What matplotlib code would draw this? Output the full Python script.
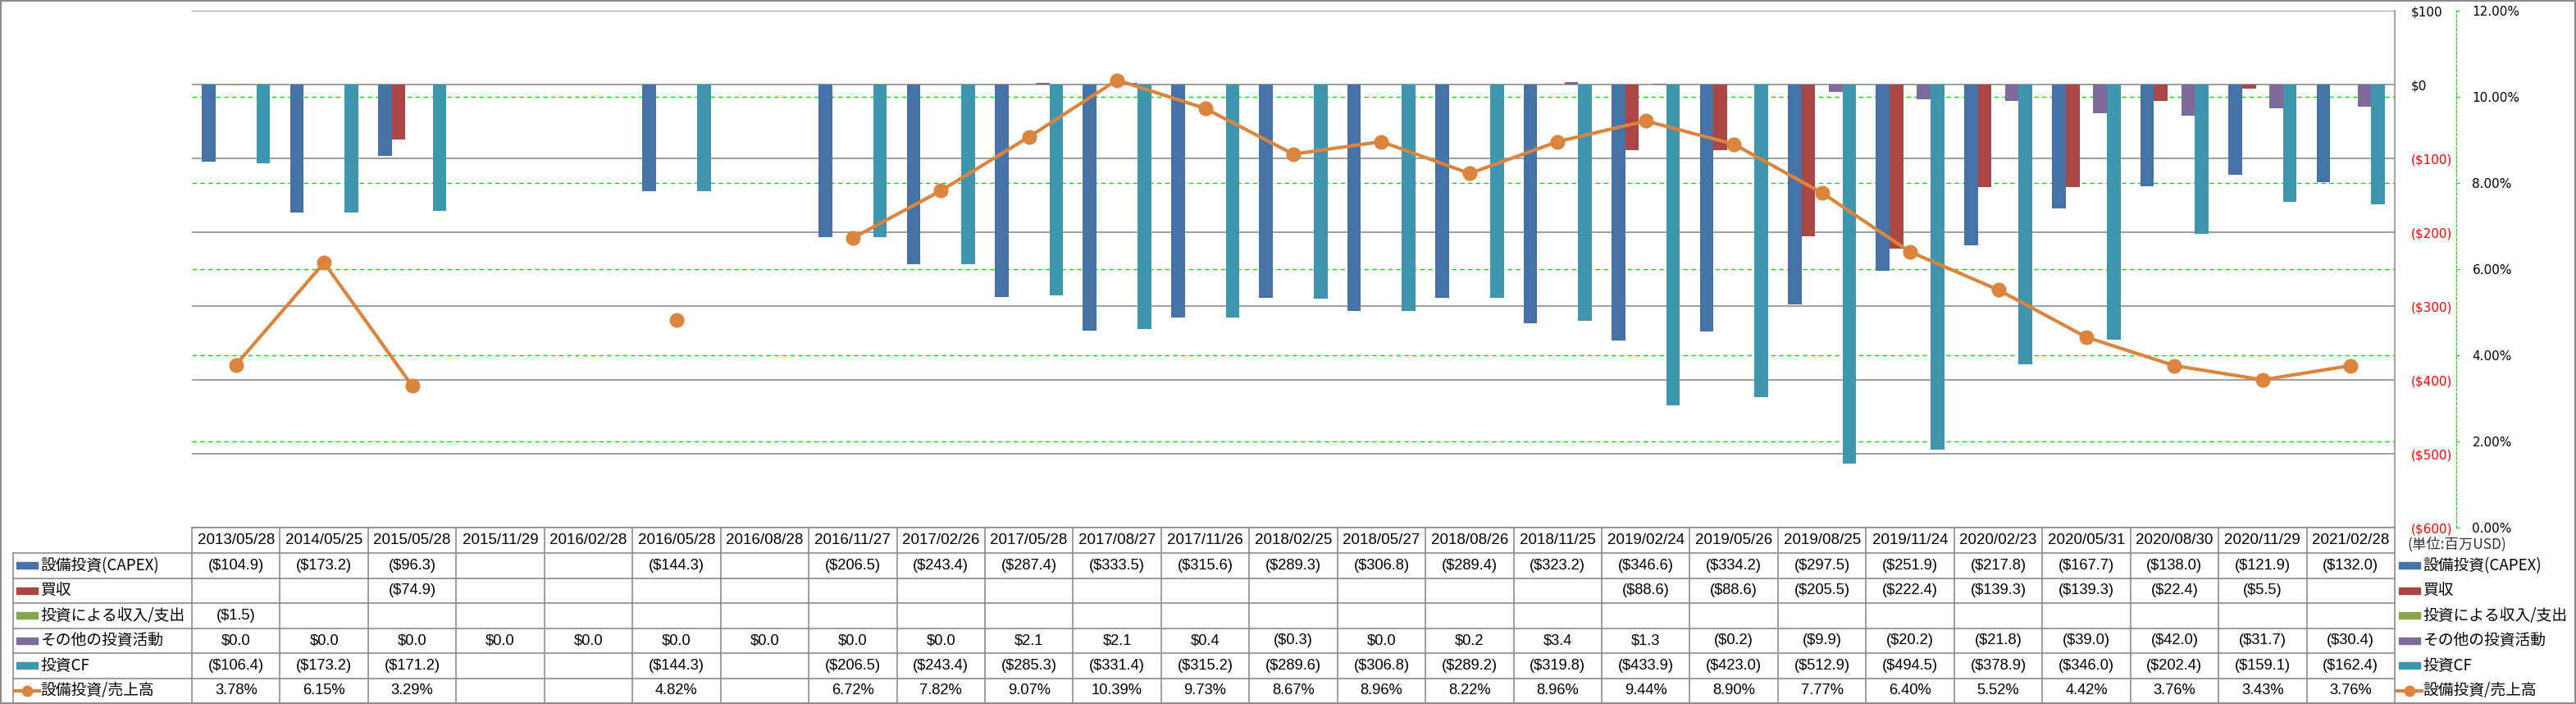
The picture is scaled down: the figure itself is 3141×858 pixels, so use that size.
import numpy as np
import matplotlib.pyplot as plt
import matplotlib.transforms as mtransforms
from matplotlib.patches import Rectangle
from matplotlib.lines import Line2D

plt.rcParams['font.family'] = ['Liberation Sans', 'Noto Sans CJK JP']

dates = ['2013/05/28', '2014/05/25', '2015/05/28', '2015/11/29', '2016/02/28',
         '2016/05/28', '2016/08/28', '2016/11/27', '2017/02/26', '2017/05/28',
         '2017/08/27', '2017/11/26', '2018/02/25', '2018/05/27', '2018/08/26',
         '2018/11/25', '2019/02/24', '2019/05/26', '2019/08/25', '2019/11/24',
         '2020/02/23', '2020/05/31', '2020/08/30', '2020/11/29', '2021/02/28']
nan = np.nan
capex = [-104.9, -173.2, -96.3, nan, nan, -144.3, nan, -206.5, -243.4, -287.4,
         -333.5, -315.6, -289.3, -306.8, -289.4, -323.2, -346.6, -334.2, -297.5, -251.9,
         -217.8, -167.7, -138.0, -121.9, -132.0]
acquisition = [nan, nan, -74.9, nan, nan, nan, nan, nan, nan, nan,
               nan, nan, nan, nan, nan, nan, -88.6, -88.6, -205.5, -222.4,
               -139.3, -139.3, -22.4, -5.5, nan]
inv_income = [-1.5] + [nan] * 24
other_inv = [0.0, 0.0, 0.0, 0.0, 0.0, 0.0, 0.0, 0.0, 0.0, 2.1,
             2.1, 0.4, -0.3, 0.0, 0.2, 3.4, 1.3, -0.2, -9.9, -20.2,
             -21.8, -39.0, -42.0, -31.7, -30.4]
inv_cf = [-106.4, -173.2, -171.2, nan, nan, -144.3, nan, -206.5, -243.4, -285.3,
          -331.4, -315.2, -289.6, -306.8, -289.2, -319.8, -433.9, -423.0, -512.9, -494.5,
          -378.9, -346.0, -202.4, -159.1, -162.4]
capex_ratio = [3.78, 6.15, 3.29, nan, nan, 4.82, nan, 6.72, 7.82, 9.07,
               10.39, 9.73, 8.67, 8.96, 8.22, 8.96, 9.44, 8.90, 7.77, 6.40,
               5.52, 4.42, 3.76, 3.43, 3.76]

bar_series = [capex, acquisition, inv_income, other_inv, inv_cf]
names = ['設備投資(CAPEX)', '買収', '投資による収入/支出', 'その他の投資活動', '投資CF', '設備投資/売上高']
colors = ['#4572A7', '#AA4643', '#89A54E', '#80699B', '#3D96AE']
line_color = '#DB843D'

W, H = 3141, 858
fig = plt.figure(figsize=(W / 100, H / 100), dpi=100)

left, right, top, bot = 234, 2920, 13, 643
ax = fig.add_axes([left / W, 1 - bot / H, (right - left) / W, (bot - top) / H])
n = len(dates)
x = np.arange(n)
bw = 0.155
for k, vals in enumerate(bar_series):
    ax.bar(x + (k - 2) * bw, np.array(vals, float), width=bw, color=colors[k], zorder=3)

ax.set_xlim(-0.5, n - 0.5)
ax.set_ylim(-600, 100)
ax.set_xticks([])
ax.grid(axis='y', color='#868686', lw=1.1)
ax.set_axisbelow(True)
for s in ['left', 'top', 'bottom']:
    ax.spines[s].set_visible(False)
ax.spines['right'].set_color('#868686')
ax.spines['right'].set_linewidth(1.1)

ax2 = ax.twinx()
ax2.set_ylim(0, 12)
pt = np.arange(0, 13, 2)
ax2.set_yticks(pt)
ax2.set_yticklabels([f'{p:.2f}%' for p in pt])
ax2.plot(x, capex_ratio, '-o', color=line_color, lw=3, ms=12, zorder=4)
for s in ['left', 'top', 'bottom']:
    ax2.spines[s].set_visible(False)
ax2.spines['right'].set_position(('outward', 54))
ax2.spines['right'].set_color('#00E000')
ax2.spines['right'].set_linestyle((0, (3, 2)))
ax2.tick_params(axis='y', colors='#00E000', labelcolor='black', length=3, pad=11, labelsize=11)
for lab in ax2.get_yticklabels():
    lab.set_family('DejaVu Sans')

# $ axis labels sit on the right, between plot and % axis (twinx resets this)
yt = np.arange(-600, 101, 100)
ax.yaxis.tick_right()
ax.set_yticks(yt)
ax.set_yticklabels([f'${v}' if v >= 0 else f'(${-v})' for v in yt])
ax.tick_params(axis='y', length=0, pad=14, labelsize=11)
for lab, v in zip(ax.get_yticklabels(), yt):
    lab.set_color('red' if v < 0 else 'black')
    lab.set_family('DejaVu Sans')

# green dashed gridlines for the % axis, behind the bars
trans = mtransforms.blended_transform_factory(ax.transAxes, ax2.transData)
for p in pt[1:-1]:
    ax.plot([0, 1], [p, p], transform=trans, color='#00E000', lw=1.0,
            ls=(0, (4, 3)), zorder=1)

# data table
tab = fig.add_axes([0, 0, 1, 1], facecolor='none')
tab.set_xlim(0, W)
tab.set_ylim(H, 0)
tab.axis('off')
gc = '#8c8c8c'
colw = (right - left) / n
edges = left + np.arange(n + 1) * colw
h_top, h_bot = 643, 674
rh = (857 - h_bot) / 6
rows = h_bot + np.arange(7) * rh

tab.plot([left, right], [h_top, h_top], color=gc, lw=1.2)
for yy in rows:
    tab.plot([16, right], [yy, yy], color=gc, lw=1.2)
for xx in edges:
    tab.plot([xx, xx], [h_top, rows[-1]], color=gc, lw=1.2)
tab.plot([16, 16], [h_bot, rows[-1]], color=gc, lw=1.2)

for i, d in enumerate(dates):
    tab.text(edges[i] + colw / 2, (h_top + h_bot) / 2, d, ha='center', va='center', fontsize=13.5)


def money(v):
    if np.isnan(v):
        return ''
    return f'(${-v:.1f})' if v < 0 else f'${v:.1f}'


table_rows = [[money(v) for v in s] for s in bar_series]
table_rows.append(['' if np.isnan(v) else f'{v:.2f}%' for v in capex_ratio])
for r, vals in enumerate(table_rows):
    yc = (rows[r] + rows[r + 1]) / 2
    for i, t in enumerate(vals):
        tab.text(edges[i] + colw / 2, yc, t, ha='center', va='center', fontsize=13.2)

# legend keys in the table and on the right
for x0 in [20, 2925]:
    for r, name in enumerate(names):
        yc = (rows[r] + rows[r + 1]) / 2
        if r < 5:
            tab.add_patch(Rectangle((x0, yc - 4), 26, 8, color=colors[r]))
        else:
            tab.add_line(Line2D([x0 - 2, x0 + 28], [yc, yc], color=line_color, lw=3))
            tab.plot(x0 + 13, yc, 'o', color=line_color, ms=9)
        tab.text(x0 + 29, yc, name, ha='left', va='center', fontsize=13.5,
                 family=['Noto Sans CJK JP'])

tab.text(2935, 663, '(単位:百万USD)', ha='left', va='center', fontsize=12.5,
         family=['Noto Sans CJK JP'], color='#333333')
tab.add_patch(Rectangle((0.5, 0.5), W - 1.5, H - 1.5, fill=False, edgecolor=gc, lw=1.5))

fig.savefig('out.png', dpi=100)
